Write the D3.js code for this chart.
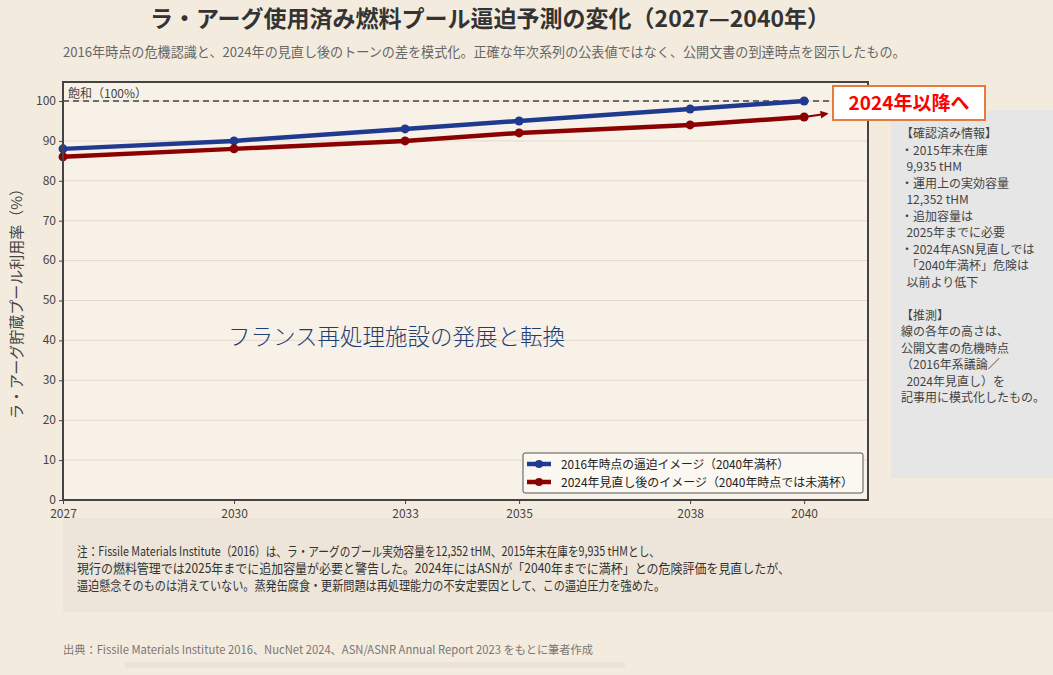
<!DOCTYPE html>
<html>
<head>
<meta charset="utf-8">
<script src="https://cdn.jsdelivr.net/npm/d3@7"></script>
<style>
	body { margin: 0; background: #f4ebdf; }
	svg { display: block; font-family: "Noto Sans CJK JP", "Noto Sans", sans-serif; }
</style>
</head>
<body>
<svg width="1053" height="675"></svg>
<script>
// data
const years = [2027, 2030, 2033, 2035, 2038, 2040];
const view2016 = [88, 90, 93, 95, 98, 100];
const view2024 = [86, 88, 90, 92, 94, 96];
const arrowYears = [2040, 2040.4];
const arrowValues = [96, 96.8];
const yTicks = [0, 10, 20, 30, 40, 50, 60, 70, 80, 90, 100];
const seriesNames = ["2016年時点の逼迫イメージ（2040年満杯）", "2024年見直し後のイメージ（2040年時点では未満杯）"];
const sideLines = ["【確認済み情報】", "・2015年末在庫", "  9,935 tHM", "・運用上の実効容量", "  12,352 tHM", "・追加容量は", "  2025年までに必要",
	"・2024年ASN見直しでは", "  「2040年満杯」危険は", "  以前より低下", "", "【推測】", "線の各年の高さは、", "公開文書の危機時点",
	"（2016年系議論／", "  2024年見直し）を", "記事用に模式化したもの。"];
const noteLines = [
	"注：Fissile Materials Institute（2016）は、ラ・アーグのプール実効容量を12,352 tHM、2015年末在庫を9,935 tHMとし、",
	"現行の燃料管理では2025年までに追加容量が必要と警告した。2024年にはASNが「2040年までに満杯」との危険評価を見直したが、",
	"逼迫懸念そのものは消えていない。蒸発缶腐食・更新問題は再処理能力の不安定要因として、この逼迫圧力を強めた。"];
const noteWidths = [583, 713, 588];

const svg = d3.select("svg");
const blue = "#1f3a8f", red = "#8b0000";

// plot box
const pLeft = 63, pRight = 868, pTop = 82, pBottom = 500;
const x = d3.scaleLinear().domain([2027, 2041.12]).range([pLeft, pRight]);
const y = d3.scaleLinear().domain([0, 104.76]).range([pBottom, pTop]);

// title
svg.append("text").attr("x", 490).attr("y", 27).attr("text-anchor", "middle")
	.attr("font-size", 23).attr("font-weight", "bold").attr("fill", "#333")
	.text("ラ・アーグ使用済み燃料プール逼迫予測の変化（2027—2040年）");
svg.append("text").attr("x", 63).attr("y", 57).attr("font-size", 13.1).attr("fill", "#666")
	.text("2016年時点の危機認識と、2024年の見直し後のトーンの差を模式化。正確な年次系列の公表値ではなく、公開文書の到達時点を図示したもの。");

// side panel
svg.append("rect").attr("x", 891).attr("y", 110).attr("width", 162).attr("height", 368).attr("fill", "#e6e6e6");
svg.append("g").selectAll("text").data(sideLines).join("text")
	.attr("x", 901).attr("y", (d, i) => 138 + i * 16.5)
	.attr("font-size", 12).attr("fill", "#444")
	.attr("xml:space", "preserve")
	.text(d => d);

// plot area
svg.append("rect").attr("x", pLeft).attr("y", pTop).attr("width", pRight - pLeft).attr("height", pBottom - pTop)
	.attr("fill", "#f8f1e8");

svg.append("g").selectAll("line").data(yTicks).join("line")
	.attr("x1", pLeft).attr("x2", pRight)
	.attr("y1", d => y(d)).attr("y2", d => y(d))
	.attr("stroke", "#e4dacd").attr("stroke-width", 1);

// saturation line
svg.append("line").attr("x1", pLeft).attr("x2", pRight).attr("y1", y(100)).attr("y2", y(100))
	.attr("stroke", "#444").attr("stroke-width", 1.5).attr("stroke-dasharray", "6,4");
svg.append("text").attr("x", 68).attr("y", 98).attr("font-size", 12).attr("fill", "#444").text("飽和（100%）");

svg.append("text").attr("x", 228).attr("y", 345).attr("font-size", 22.5).attr("fill", "#1e3f73")
	.attr("font-weight", 300).text("フランス再処理施設の発展と転換");

// series
const line = d3.line().x(d => x(d[0])).y(d => y(d[1]));
[[view2016, blue], [view2024, red]].forEach(([vals, col]) => {
	const pts = years.map((yr, i) => [yr, vals[i]]);
	svg.append("path").attr("d", line(pts)).attr("fill", "none")
		.attr("stroke", col).attr("stroke-width", 4.5);
	svg.append("g").selectAll("circle").data(pts).join("circle")
		.attr("cx", d => x(d[0])).attr("cy", d => y(d[1])).attr("r", 4.5).attr("fill", col);
});

// arrow after 2040
svg.append("defs").append("marker").attr("id", "arr").attr("viewBox", "0 0 10 10")
	.attr("refX", 8).attr("refY", 5).attr("markerWidth", 4).attr("markerHeight", 4).attr("orient", "auto")
	.append("path").attr("d", "M0,0L10,5L0,10z").attr("fill", red);
svg.append("path").attr("d", line(arrowYears.map((yr, i) => [yr, arrowValues[i]])))
	.attr("stroke", red).attr("stroke-width", 2).attr("marker-end", "url(#arr)");

// frame
svg.append("rect").attr("x", pLeft).attr("y", pTop).attr("width", pRight - pLeft).attr("height", pBottom - pTop)
	.attr("fill", "none").attr("stroke", "#444").attr("stroke-width", 2);

// axes
const yAxis = svg.append("g").attr("transform", `translate(${pLeft},0)`)
	.call(d3.axisLeft(y).tickValues(yTicks).tickSize(4));
const xAxis = svg.append("g").attr("transform", `translate(0,${pBottom})`)
	.call(d3.axisBottom(x).tickValues(years).tickFormat(d3.format("d")).tickSize(4));
[yAxis, xAxis].forEach(a => {
	a.select(".domain").remove();
	a.selectAll("line").attr("stroke", "#444");
	a.selectAll("text").attr("font-size", 12).attr("fill", "#444").attr("font-family", "Noto Sans CJK JP");
});
xAxis.selectAll("text").attr("dy", "0.9em");
yAxis.selectAll("text").attr("dy", "0.28em");

svg.append("text").attr("transform", "translate(22,300) rotate(-90)").attr("text-anchor", "middle")
	.attr("font-size", 15).attr("fill", "#444").text("ラ・アーグ貯蔵プール利用率（%）");

// legend
const lg = svg.append("g").attr("transform", "translate(523,453)");
lg.append("rect").attr("width", 340).attr("height", 40).attr("rx", 2)
	.attr("fill", "#fbf7f1").attr("stroke", "#555").attr("stroke-width", 1);
[blue, red].forEach((col, i) => {
	const ly = 11 + i * 18;
	lg.append("line").attr("x1", 4).attr("x2", 28).attr("y1", ly).attr("y2", ly)
		.attr("stroke", col).attr("stroke-width", 4.5);
	lg.append("circle").attr("cx", 16).attr("cy", ly).attr("r", 4).attr("fill", col);
	lg.append("text").attr("x", 38).attr("y", ly + 4.5).attr("font-size", 12).attr("fill", "#222")
		.attr("textLength", i ? 292 : 228).attr("lengthAdjust", "spacingAndGlyphs")
		.text(seriesNames[i]);
});

// callout
svg.append("rect").attr("x", 833).attr("y", 86).attr("width", 152).attr("height", 34)
	.attr("fill", "#fff").attr("stroke", "#e87a3c").attr("stroke-width", 2);
svg.append("text").attr("x", 909).attr("y", 110).attr("text-anchor", "middle")
	.attr("font-size", 19).attr("font-weight", "bold").attr("fill", "#ff0000").text("2024年以降へ");

// note box
svg.append("rect").attr("x", 63).attr("y", 518).attr("width", 990).attr("height", 94).attr("fill", "#ede5d9");
svg.append("g").selectAll("text").data(noteLines).join("text")
	.attr("x", 77).attr("y", (d, i) => 556 + i * 17)
	.attr("font-size", 13).attr("fill", "#333")
	.attr("textLength", (d, i) => noteWidths[i]).attr("lengthAdjust", "spacingAndGlyphs")
	.text(d => d);

// source
svg.append("text").attr("x", 63).attr("y", 654).attr("font-size", 11.5).attr("fill", "#777")
	.attr("textLength", 530).attr("lengthAdjust", "spacingAndGlyphs")
	.text("出典：Fissile Materials Institute 2016、NucNet 2024、ASN/ASNR Annual Report 2023 をもとに筆者作成");
svg.append("rect").attr("x", 125).attr("y", 662).attr("width", 500).attr("height", 6).attr("fill", "#ece3d7");
</script>
</body>
</html>
